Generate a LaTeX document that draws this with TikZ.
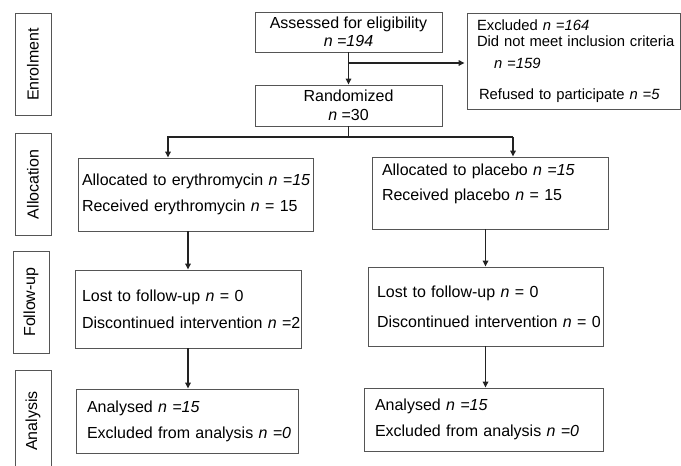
\documentclass[tikz,border=0pt]{standalone}
\usepackage{fontspec}
\setmainfont{Liberation Sans}
\usetikzlibrary{arrows.meta,calc}
\definecolor{boxc}{HTML}{555555}
\definecolor{arrc}{HTML}{222222}
\newcommand\Ln[1]{\mbox{#1}}
\begin{document}
\begin{tikzpicture}[x=1bp,y=-1bp,
  font=\fontsize{16bp}{18bp}\selectfont,
  box/.style={draw=boxc, line width=0.9bp, inner ysep=0pt},
  side/.style={draw=boxc, line width=0.9bp, rotate=90, minimum width=102bp, minimum height=36bp, inner sep=0pt},
  arr/.style={draw=arrc, line width=1.6bp, -{Triangle[length=6bp,width=5.5bp]}},
  ln/.style={draw=arrc, line width=1.6bp}]
\useasboundingbox (0,0) rectangle (681,466);
\clip (0,0) rectangle (681,466);

% side labels
\node[side] (sEn) at (33,64.5) {Enrolment};
\node[side] (sAl) at (33,184.5) {Allocation};
\node[side] (sFu) at (31,302) {Follow-up};
\node[side] (sAn) at (33,421) {Analysis};

% enrolment
\node[box, minimum width=187bp, minimum height=40bp, align=center] (assess) at (348.5,32)
  {Assessed for eligibility\\ \textit{n =194}};
\node[box, minimum width=187bp, minimum height=41bp, align=center] (rand) at (348.5,105.5)
  {Randomized\\[1bp] \textit{n} =30};
\node[box, text width=193bp, inner xsep=10bp, minimum height=96bp, align=left,
      font=\fontsize{14.8bp}{17bp}\selectfont] (excl) at (573.5,61)
  {\Ln{Excluded \textit{n =164}}\\[-1bp]
   \Ln{Did not meet inclusion criteria}\\[5bp]
   \Ln{\hspace*{17bp}\textit{n =159}}\\[14bp]
   \Ln{\hspace*{2bp}Refused to participate \textit{n =5}}};

% allocation
\node[box, text width=227bp, inner xsep=4bp, minimum height=73bp, align=left] (allocL) at (195.5,194.5)
  {\Ln{Allocated to erythromycin \textit{n =15}}\\[8bp]
   \Ln{Received erythromycin \textit{n} = 15}};
\node[box, text width=216bp, inner xsep=10bp, minimum height=72bp, align=left] (allocR) at (490,193)
  {\Ln{Allocated to placebo \textit{n =15}}\\[7bp]
   \Ln{Received placebo \textit{n} = 15}\\[3bp]\mbox{}};

% follow-up
\node[box, text width=212bp, inner xsep=7bp, minimum height=78bp, align=left] (fuL) at (188,309)
  {\Ln{Lost to follow-up \textit{n} = 0}\\[9bp]
   \Ln{Discontinued intervention \textit{n} =2}};
\node[box, text width=217bp, inner xsep=9bp, minimum height=79bp, align=left] (fuR) at (485.5,306.5)
  {\Ln{Lost to follow-up \textit{n} = 0}\\[12bp]
   \Ln{Discontinued intervention \textit{n} = 0}};

% analysis
\node[box, text width=200bp, inner xsep=11bp, minimum height=64bp, align=left] (anL) at (187,421)
  {\Ln{Analysed \textit{n =15}}\\[8bp]
   \Ln{Excluded from analysis \textit{n =0}}};
\node[box, text width=217bp, inner xsep=11bp, minimum height=63bp, align=left] (anR) at (483.5,419.5)
  {\Ln{Analysed \textit{n =15}}\\[8bp]
   \Ln{Excluded from analysis \textit{n =0}}};

% connectors
\draw[arr] (assess.south) -- (rand.north);
\coordinate (c1) at (348.5,63);
\draw[arr, shorten >=2bp] (c1) -- (c1 -| excl.west);
\coordinate (c2) at (348.5,137);
\coordinate (bl) at (168,137);
\coordinate (br) at (513,137);
\draw[ln] (rand.south) -- (c2);
\draw[arr] (br) -- (bl) -- (bl |- allocL.north);
\draw[arr] (br) -- (br |- allocR.north);
\draw[arr] (allocL.south -| fuL.north) -- (fuL.north);
\draw[arr] (allocR.south -| fuR.north) -- (fuR.north);
\draw[arr] (fuL.south) -- (fuL.south |- anL.north);
\draw[arr] (fuR.south) -- (fuR.south |- anR.north);
\end{tikzpicture}
\end{document}
